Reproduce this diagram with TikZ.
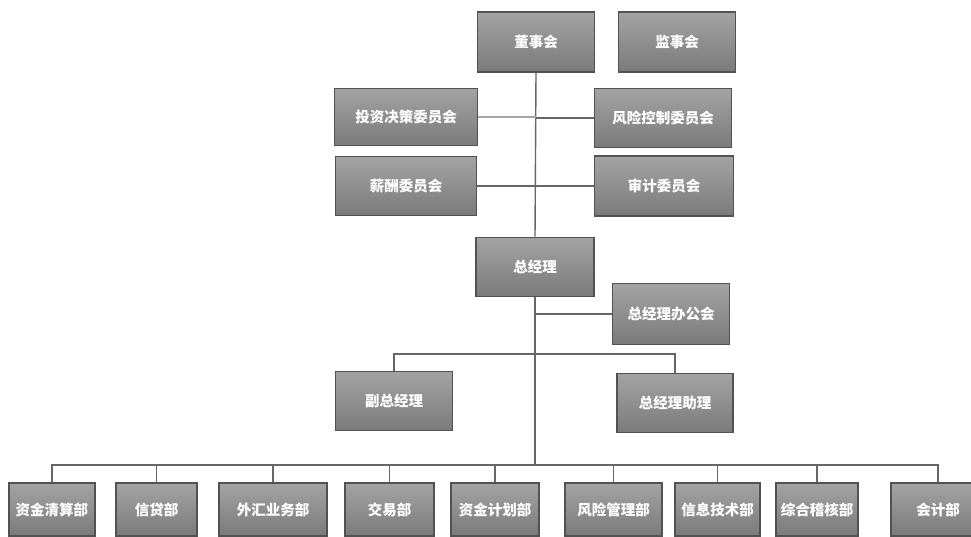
\documentclass[tikz,border=0pt]{standalone}
\usepackage{fontspec}
\newfontfamily\cjk{Noto Sans CJK SC}
\begin{document}
\begin{tikzpicture}[x=1pt,y=-1pt,
  box/.style={draw=black!68, line width=1.6pt, top color=black!36, bottom color=black!52,
    text=white, font=\cjk\bfseries\fontsize{14.5}{16}\selectfont, inner sep=0pt},
  conn/.style={draw=black!60, line width=1.4pt},
  lconn/.style={draw=black!35, line width=1.2pt}]
\clip (0,0) rectangle (971,537);
\fill[white] (0,0) rectangle (971,537);
% top level
\node[box, minimum width=117pt, minimum height=60pt] (dsh) at (536,42) {董事会};
\node[box, minimum width=117pt, minimum height=60pt] (jsh) at (677,42) {监事会};
\node[box, minimum width=143pt, minimum height=57pt] (tz) at (406,117) {投资决策委员会};
\node[box, minimum width=137pt, minimum height=59pt] (fx) at (663,118) {风险控制委员会};
\node[box, minimum width=141pt, minimum height=59pt] (xc) at (406,186) {薪酬委员会};
\node[box, minimum width=139pt, minimum height=60pt] (sj) at (664,186) {审计委员会};
\node[box, minimum width=118pt, minimum height=59pt] (zjl) at (535,267) {总经理};
\node[box, minimum width=117pt, minimum height=61pt] (bgh) at (671,314) {总经理办公会};
\node[box, minimum width=117pt, minimum height=59pt] (fz) at (394,401) {副总经理};
\node[box, minimum width=116pt, minimum height=59pt] (zl) at (675,403) {总经理助理};
% departments
\node[box, minimum width=86pt, minimum height=53pt] (d1) at (52,509.5) {资金清算部};
\node[box, minimum width=81pt, minimum height=53pt] (d2) at (156.5,509.5) {信贷部};
\node[box, minimum width=108pt, minimum height=53pt] (d3) at (273,509.5) {外汇业务部};
\node[box, minimum width=89pt, minimum height=53pt] (d4) at (389.5,509.5) {交易部};
\node[box, minimum width=88pt, minimum height=53pt] (d5) at (495,509.5) {资金计划部};
\node[box, minimum width=97pt, minimum height=53pt] (d6) at (613.5,509.5) {风险管理部};
\node[box, minimum width=85pt, minimum height=53pt] (d7) at (717.5,509.5) {信息技术部};
\node[box, minimum width=82pt, minimum height=53pt] (d8) at (817,509.5) {综合稽核部};
\node[box, minimum width=94pt, minimum height=53pt] (d9) at (938,509.5) {会计部};
% helper coordinates
\coordinate (m1) at (535,354);
\coordinate (b) at (535,465);
% connectors
\draw[conn] (dsh.south) -- (zjl.north);
\draw[lconn] (tz.east) -- (tz.east -| dsh.south);
\draw[conn] (fx.west) -- (fx.west -| dsh.south);
\draw[conn] (xc.east) -- (sj.west);
\draw[conn] (bgh.west) -- (bgh.west -| zjl.south);
\draw[conn] (zjl.south) -- (b);
\draw[conn] (fz.north) |- (m1) -| (zl.north);
\draw[conn] (d1.north) |- (b) -| (d9.north);
\foreach \d in {d2,d3,d4,d5,d6,d7,d8}
  \draw[conn] (\d.north) -- (\d.north |- b);
\end{tikzpicture}
\end{document}
